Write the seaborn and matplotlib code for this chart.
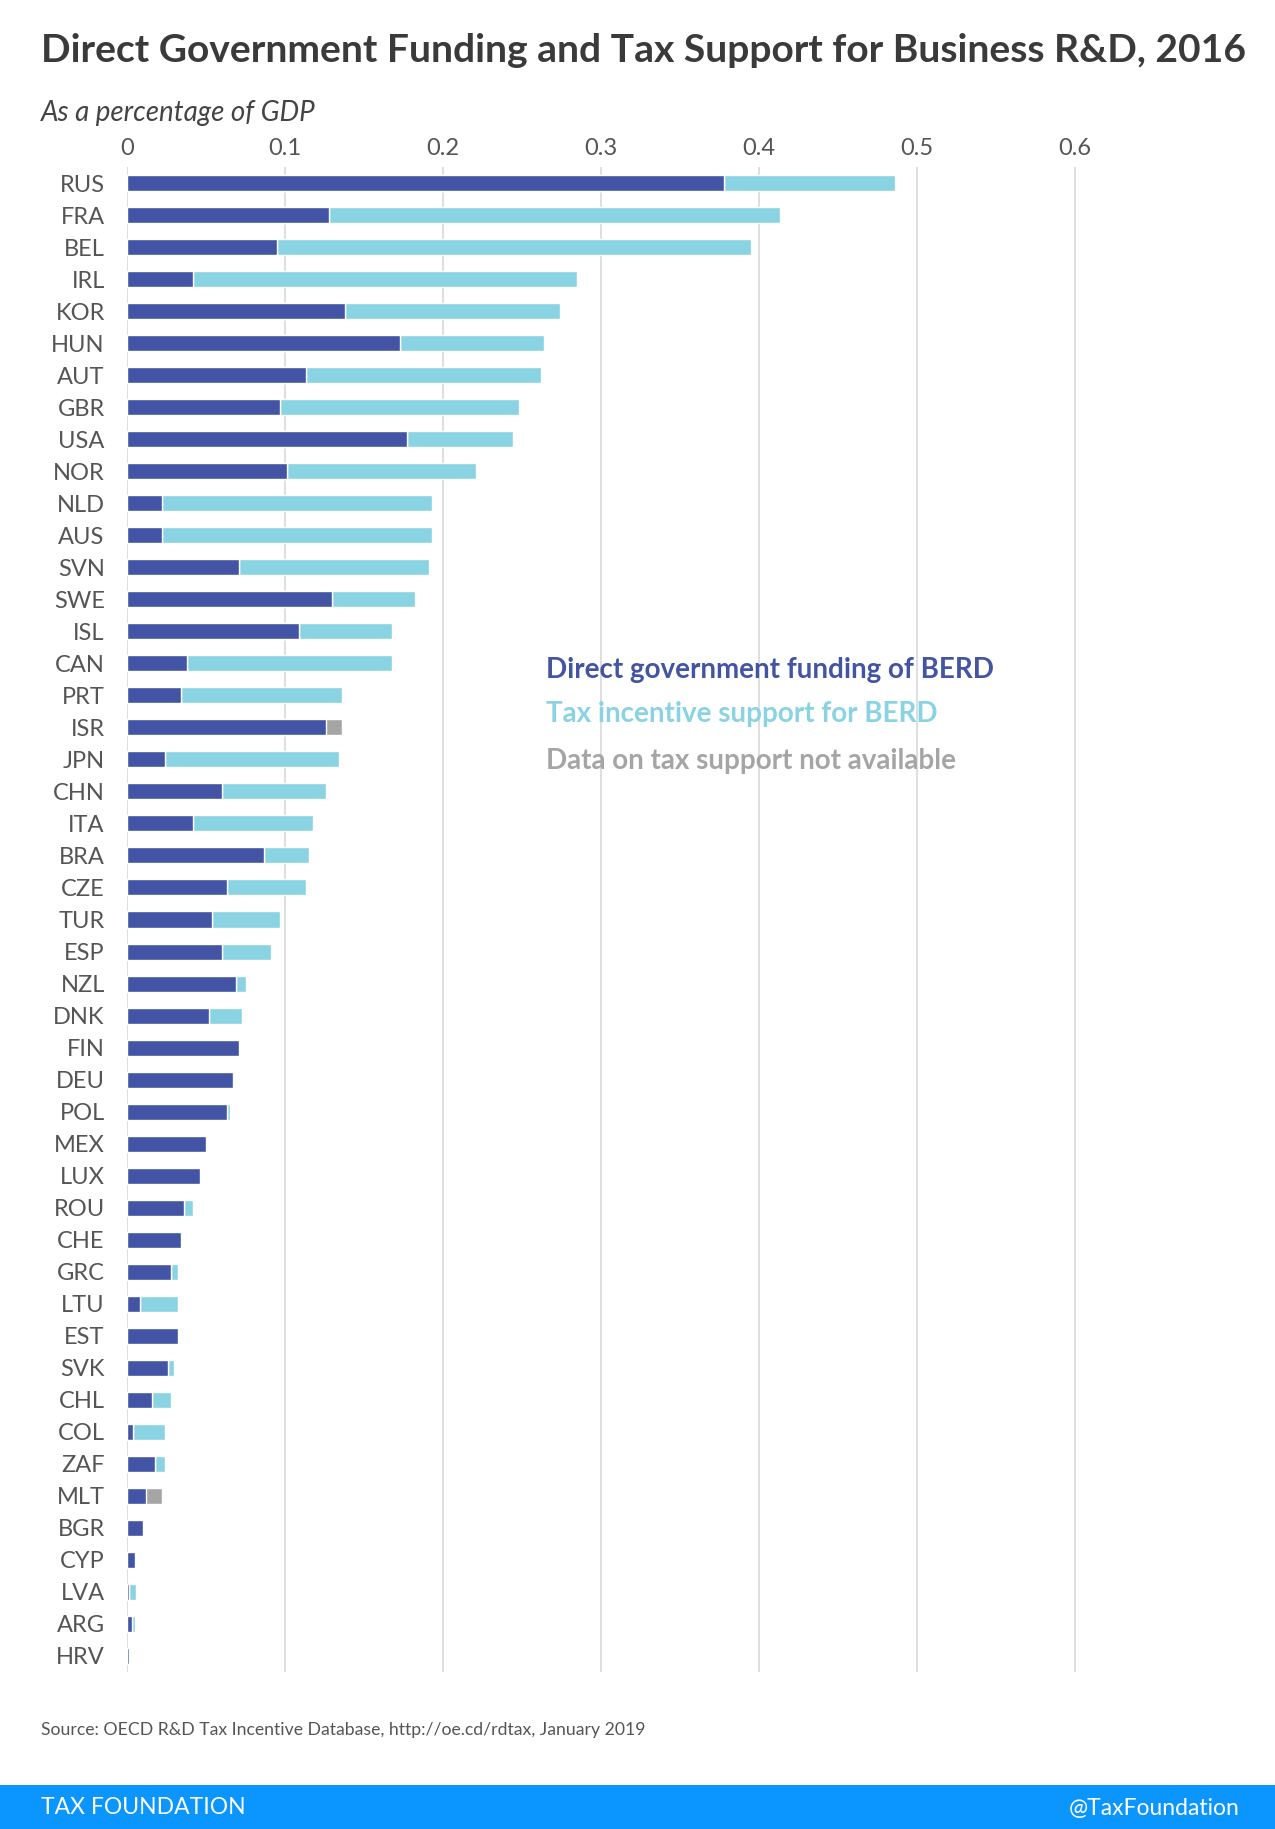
import pandas as pd
import matplotlib.pyplot as plt
import seaborn as sns
from matplotlib.patches import Rectangle

countries = ['RUS', 'FRA', 'BEL', 'IRL', 'KOR', 'HUN', 'AUT', 'GBR', 'USA', 'NOR',
             'NLD', 'AUS', 'SVN', 'SWE', 'ISL', 'CAN', 'PRT', 'ISR', 'JPN', 'CHN',
             'ITA', 'BRA', 'CZE', 'TUR', 'ESP', 'NZL', 'DNK', 'FIN', 'DEU', 'POL',
             'MEX', 'LUX', 'ROU', 'CHE', 'GRC', 'LTU', 'EST', 'SVK', 'CHL', 'COL',
             'ZAF', 'MLT', 'BGR', 'CYP', 'LVA', 'ARG', 'HRV']

# direct government funding of BERD (% of GDP)
direct = [0.378, 0.128, 0.095, 0.042, 0.138, 0.173, 0.113, 0.097, 0.177, 0.101,
          0.022, 0.022, 0.071, 0.130, 0.109, 0.038, 0.034, 0.126, 0.024, 0.060,
          0.042, 0.087, 0.063, 0.054, 0.060, 0.069, 0.052, 0.071, 0.067, 0.063,
          0.050, 0.046, 0.036, 0.034, 0.028, 0.008, 0.032, 0.026, 0.016, 0.004,
          0.018, 0.012, 0.010, 0.005, 0.0015, 0.003, 0.0013]

# tax incentive support for BERD (% of GDP)
tax = [0.108, 0.285, 0.300, 0.243, 0.136, 0.091, 0.149, 0.151, 0.067, 0.120,
       0.171, 0.171, 0.120, 0.052, 0.059, 0.130, 0.102, 0.000, 0.110, 0.066,
       0.076, 0.028, 0.050, 0.043, 0.031, 0.006, 0.021, 0.000, 0.000, 0.002,
       0.000, 0.000, 0.006, 0.000, 0.004, 0.024, 0.000, 0.004, 0.012, 0.020,
       0.006, 0.000, 0.000, 0.000, 0.004, 0.002, 0.000]

# bar length shown in grey where tax support data is missing
not_available = [0, 0, 0, 0, 0, 0, 0, 0, 0, 0,
                 0, 0, 0, 0, 0, 0, 0, 0.010, 0, 0,
                 0, 0, 0, 0, 0, 0, 0, 0, 0, 0,
                 0, 0, 0, 0, 0, 0, 0, 0, 0, 0,
                 0, 0.010, 0, 0, 0, 0, 0]

xticks = [0, 0.1, 0.2, 0.3, 0.4, 0.5, 0.6]
xtick_labels = ['0', '0.1', '0.2', '0.3', '0.4', '0.5', '0.6']

dark_blue = '#4354A4'
light_blue = '#8AD3E2'
grey = '#A5A5A5'
footer_blue = '#0A95FF'

df = pd.DataFrame({'country': countries, 'direct': direct, 'tax': tax, 'na': not_available})
df['with_tax'] = df['direct'] + df['tax']
df['with_na'] = df['direct'] + df['na']

sns.set_style('white')
plt.rcParams['font.family'] = ['Lato', 'DejaVu Sans']

W, H = 1275, 1829
fig = plt.figure(figsize=(W / 100, H / 100), dpi=100)
ax = fig.add_axes([127 / W, 1 - 1672 / H, (1233 - 127) / W, (1672 - 167) / H])

# stacked bars drawn as layers: total first, direct on top
sns.barplot(data=df, x='with_tax', y='country', color=light_blue, width=0.5,
            saturation=1, ax=ax, zorder=2)
sns.barplot(data=df, x='with_na', y='country', color=grey, width=0.5,
            saturation=1, ax=ax, zorder=3)
sns.barplot(data=df, x='direct', y='country', color=dark_blue, width=0.5,
            saturation=1, ax=ax, zorder=4)

ax.set_xlim(0, 0.7)
ax.set_ylim(len(countries) - 0.5, -0.5)
ax.set_xticks(xticks)
ax.set_xticklabels(xtick_labels)
ax.xaxis.tick_top()
ax.xaxis.grid(True, color='#DCDCDC', lw=1.3, zorder=0)
ax.set_axisbelow(True)
ax.tick_params(axis='x', length=0, pad=6, labelsize=17, labelcolor='#555555')
ax.tick_params(axis='y', length=0, pad=16, labelsize=17, labelcolor='#555555')
ax.set_xlabel('')
ax.set_ylabel('')
for s in ax.spines.values():
    s.set_visible(False)

fig.text(41 / W, 1 - 51 / H, 'Direct Government Funding and Tax Support for Business R&D, 2016',
         fontsize=28.1, fontweight='bold', color='#3A3A3A', va='center', ha='left')
fig.text(41 / W, 1 - 113 / H, 'As a percentage of GDP', fontsize=20, style='italic',
         color='#444444', va='center', ha='left')

# legend as coloured text
fig.text(546 / W, 1 - 670 / H, 'Direct government funding of BERD', fontsize=20,
         fontweight='bold', color=dark_blue, va='center')
fig.text(546 / W, 1 - 714 / H, 'Tax incentive support for BERD', fontsize=20,
         fontweight='bold', color=light_blue, va='center')
fig.text(546 / W, 1 - 761 / H, 'Data on tax support not available', fontsize=20,
         fontweight='bold', color=grey, va='center')

fig.text(41 / W, 1 - 1730 / H, 'Source: OECD R&D Tax Incentive Database, http://oe.cd/rdtax, January 2019',
         fontsize=12.7, color='#555555', va='center')

fig.patches.append(Rectangle((0, 0), 1, 44 / H, transform=fig.transFigure,
                             facecolor=footer_blue, edgecolor='none', zorder=0))
fig.text(41 / W, 21 / H, 'TAX FOUNDATION', fontsize=16.5, color='white', va='center')
fig.text(1 - 35 / W, 21 / H, '@TaxFoundation', fontsize=16.5, color='white', va='center', ha='right')

fig.savefig('out.png', dpi=100, facecolor='white')
